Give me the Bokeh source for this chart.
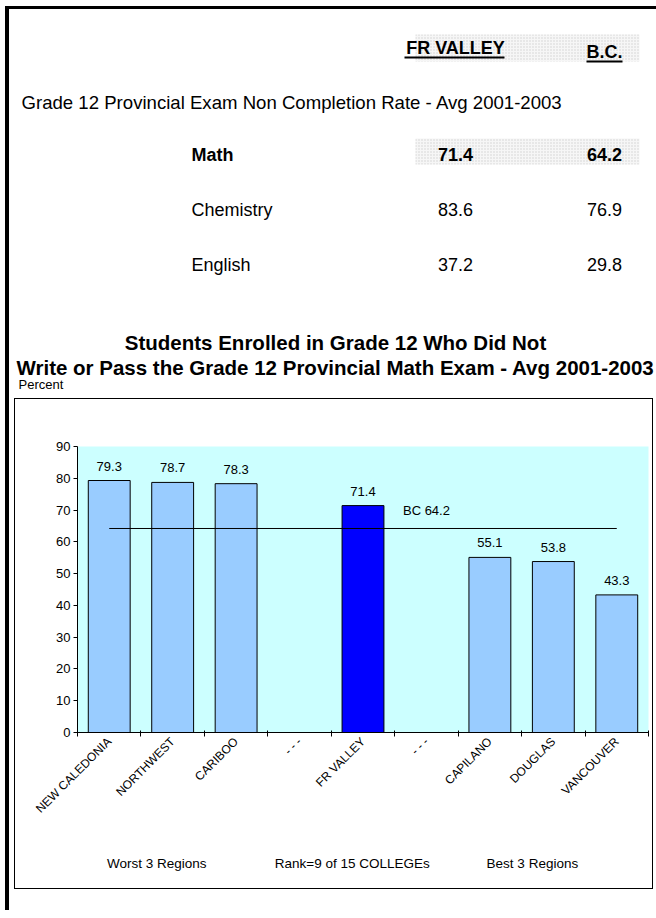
import math
import numpy as np
from bokeh.plotting import figure
from bokeh.models import Range1d, FixedTicker, LinearAxis, Spacer, ColumnDataSource
from bokeh.layouts import column, row
from bokeh.embed import file_html
from bokeh.resources import INLINE
from bokeh.core.properties import value

# ---------------- data ----------------
table_title = "Grade 12 Provincial Exam Non Completion Rate - Avg 2001-2003"
table_columns = ["FR VALLEY", "B.C."]
subjects = ["Math", "Chemistry", "English"]
fr_valley_rates = [71.4, 83.6, 37.2]
bc_rates = [64.2, 76.9, 29.8]

chart_title = ["Students Enrolled in Grade 12 Who Did Not",
               "Write or Pass the Grade 12 Provincial Math Exam - Avg 2001-2003"]
y_label = "Percent"
regions = ["NEW CALEDONIA", "NORTHWEST", "CARIBOO", "- - -", "FR VALLEY",
           "- - -", "CAPILANO", "DOUGLAS", "VANCOUVER"]
rates = [79.3, 78.7, 78.3, None, 71.4, None, 55.1, 53.8, 43.3]
highlight = "FR VALLEY"
bc_average = 64.2
group_notes = ["Worst 3 Regions", "Rank=9 of 15 COLLEGEs", "Best 3 Regions"]
y_ticks = [0, 10, 20, 30, 40, 50, 60, 70, 80, 90]

FONT = "Liberation Sans"

# ---------------- top section (table + titles) ----------------
X0, Y0 = 9, 9
TOP_W, TOP_H = 645, 389
top = figure(width=TOP_W, height=TOP_H, x_range=Range1d(X0, X0 + TOP_W),
             y_range=Range1d(Y0 + TOP_H, Y0),
             x_axis_type=None, y_axis_type=None, output_backend="svg",
             toolbar_location=None, min_border=0)
top.grid.visible = False
top.outline_line_color = None

col_x = [455, 604]
row_y = [154, 209, 264]

# dotted shading behind header and Math row
top.quad(left=[415, 415], right=[639, 639], top=[34, 138], bottom=[61, 164],
         fill_color="#f6f6f6", line_color=None,
         hatch_pattern="dot", hatch_color="#d0d0d0", hatch_scale=3, hatch_weight=1)

top.text(x=col_x, y=[47, 51], text=table_columns, text_font=value(FONT),
         text_font_style="bold", text_font_size="18px", text_align="center",
         text_baseline="middle", text_color="black")
top.segment(x0=[404, 586], x1=[504, 622], y0=[57, 61], y1=[57, 61],
            line_color="black", line_width=2)

top.text(x=[21], y=[102], text=[table_title], text_font=value(FONT),
         text_font_size="18.6px", text_baseline="middle", text_color="black")

# first row bold
top.text(x=[191], y=[row_y[0]], text=[subjects[0]], text_font=value(FONT),
         text_font_style="bold", text_font_size="18px", text_baseline="middle")
top.text(x=col_x, y=[row_y[0]] * 2, text=[f"{fr_valley_rates[0]:.1f}", f"{bc_rates[0]:.1f}"],
         text_font=value(FONT), text_font_style="bold", text_font_size="18px",
         text_align="center", text_baseline="middle")
top.text(x=[191] * 2, y=row_y[1:], text=subjects[1:], text_font=value(FONT),
         text_font_size="18px", text_baseline="middle")
top.text(x=[col_x[0]] * 2, y=row_y[1:], text=[f"{v:.1f}" for v in fr_valley_rates[1:]],
         text_font=value(FONT), text_font_size="18px", text_align="center", text_baseline="middle")
top.text(x=[col_x[1]] * 2, y=row_y[1:], text=[f"{v:.1f}" for v in bc_rates[1:]],
         text_font=value(FONT), text_font_size="18px", text_align="center", text_baseline="middle")

top.text(x=[335, 335], y=[342, 367], text=chart_title, text_font=value(FONT),
         text_font_style="bold", text_font_size="20.5px", text_align="center",
         text_baseline="middle")
top.text(x=[18], y=[384], text=[y_label], text_font=value(FONT), text_font_size="13px",
         text_baseline="middle")

# ---------------- chart ----------------
n = len(regions)
centers = [i + 0.5 for i in range(n)]
bounds = [float(i) for i in range(n + 1)]
tops = [np.nan if v is None else v for v in rates]
colors = ["#0000FF" if r == highlight else "#99CCFF" for r in regions]
src = ColumnDataSource(dict(x=centers, top=tops, color=colors))

p = figure(width=639, height=491, x_range=Range1d(0, n), y_range=Range1d(0, 90),
           output_backend="svg", toolbar_location=None,
           min_border_left=62, min_border_right=6, min_border_top=47, min_border_bottom=158,
           styles={"border": "1px solid black"})
p.grid.visible = False
p.outline_line_color = None
p.background_fill_color = "#CCFFFF"
p.border_fill_color = "white"

p.vbar(x="x", top="top", width=0.66, bottom=0, source=src, fill_color="color",
       line_color="black", line_width=1)

lab_x = [c for c, v in zip(centers, rates) if v is not None]
lab_y = [v for v in rates if v is not None]
p.text(x=lab_x, y=lab_y, text=[f"{v:.1f}" for v in lab_y], text_font=value(FONT),
       text_font_size="13px", text_align="center", text_baseline="bottom", y_offset=-10,
       text_color="black")

p.line(x=[centers[0], centers[-1]], y=[bc_average, bc_average], line_color="black", line_width=1)
p.text(x=[centers[5]], y=[bc_average], text=[f"BC {bc_average}"], text_font=value(FONT),
       text_font_size="13px", text_align="center", text_baseline="bottom", y_offset=-10,
       text_color="black")

# axes
xa = p.xaxis[0]
xa.ticker = FixedTicker(ticks=centers, minor_ticks=bounds)
xa.major_label_overrides = {c: r for c, r in zip(centers, regions)}
xa.major_label_orientation = math.pi / 4
xa.major_tick_out = 0
xa.major_tick_in = 0
xa.minor_tick_out = 4
xa.minor_tick_in = 2
xa.minor_tick_line_color = "black"
xa.axis_line_color = "black"
xa.major_label_text_font = FONT
xa.major_label_text_font_size = "12px"
xa.major_label_text_color = "black"
xa.major_label_standoff = 3

# group notes shown as a second, line-less axis beneath the category labels
note_pos = [1.25, 4.33, 7.17]
notes_axis = LinearAxis(ticker=FixedTicker(ticks=note_pos),
                        major_label_overrides={x: t for x, t in zip(note_pos, group_notes)},
                        axis_line_color=None, major_tick_line_color=None,
                        minor_tick_line_color=None, major_tick_out=0, major_tick_in=0,
                        minor_tick_out=0, minor_tick_in=0,
                        major_label_text_font=FONT, major_label_text_font_size="13.5px",
                        major_label_text_color="black", major_label_standoff=32)
p.add_layout(notes_axis, "below")

ya = p.yaxis[0]
ya.ticker = FixedTicker(ticks=y_ticks)
ya.major_tick_out = 4
ya.major_tick_in = 0
ya.minor_tick_out = 0
ya.minor_tick_in = 0
ya.axis_line_color = "black"
ya.major_tick_line_color = "black"
ya.major_label_text_font = FONT
ya.major_label_text_font_size = "13px"
ya.major_label_text_color = "black"
ya.major_label_standoff = 3

# ---------------- page layout ----------------
left_bar = Spacer(width=4, height=904, styles={"background-color": "black"})
top_bar = Spacer(width=647, height=3, styles={"background-color": "black"})
chart_row = row(Spacer(width=5, height=491), p)
page = column(Spacer(width=651, height=6),
              row(Spacer(width=5, height=904), left_bar, column(top_bar, top, chart_row)))

open("out.html", "w").write(file_html(page, INLINE))
